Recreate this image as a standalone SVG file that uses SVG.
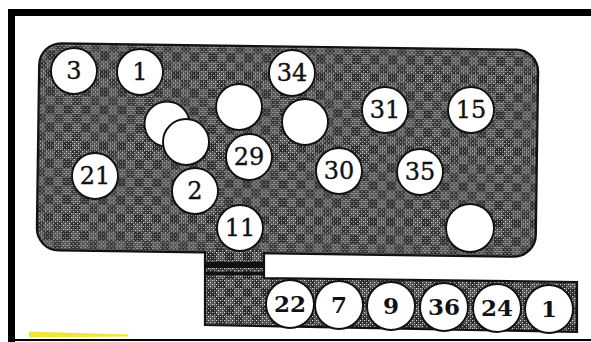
<svg xmlns="http://www.w3.org/2000/svg" width="591" height="342" viewBox="0 0 591 342">
<defs>
<pattern id="dots" width="4" height="4" patternUnits="userSpaceOnUse">
<rect width="4" height="4" fill="#2a2a2a"/>
<rect x="0" y="0" width="1.2" height="1.2" fill="#cfcfcf"/>
<rect x="2" y="2" width="1.2" height="1.2" fill="#cfcfcf"/>
<rect x="2" y="0" width="1" height="1" fill="#777"/>
</pattern>
<pattern id="check" width="18" height="18" patternUnits="userSpaceOnUse">
<rect width="9" height="9" fill="#ffffff" fill-opacity="0.16"/>
<rect x="9" y="9" width="9" height="9" fill="#ffffff" fill-opacity="0.16"/>
<rect x="9" y="0" width="9" height="9" fill="#000000" fill-opacity="0.12"/>
</pattern>
<style>
.tile{fill:url(#dots)}
.over{fill:url(#check)}
.edge{fill:none;stroke:#111;stroke-width:2.2}
.c{fill:#ffffff;stroke:#111;stroke-width:1.9}
.t{font-family:"DejaVu Serif","Liberation Serif",serif;font-size:24px;fill:#111;stroke:#111;stroke-width:0.35;text-anchor:middle}
.b{font-family:"DejaVu Serif","Liberation Serif",serif;font-size:23px;font-weight:bold;fill:#111;text-anchor:middle}
</style>
</defs>
<rect width="591" height="342" fill="#ffffff"/>
<!-- frame -->
<rect x="8" y="9" width="583" height="7" fill="#000"/>
<rect x="8" y="9" width="7" height="333" fill="#000"/>
<rect x="8" y="339" width="583" height="2" fill="#000"/>
<polygon points="29,331.5 128,334.5 128,336.5 29,337.5" fill="#f2e43a"/>
<!-- lower strip and neck -->
<g id="strip">
<polygon class="tile" points="205,248 264,248 264,278 577,282 577,332 205,325"/>
<polygon class="over" points="205,248 264,248 264,278 577,282 577,332 205,325"/>
</g>
<!-- main board -->
<g id="board">
<g transform="rotate(0.8 287.5 150)">
<rect class="tile" x="38" y="46.5" width="499" height="207" rx="22"/>
<rect class="over" x="38" y="46.5" width="499" height="207" rx="22"/>
<rect class="edge" x="38" y="46.5" width="499" height="207" rx="22"/>
</g>
</g>
<g id="neck">
<rect class="tile" x="206.2" y="249" width="56.6" height="13"/>
<rect class="over" x="206.2" y="249" width="56.6" height="13"/>
<rect x="205" y="262" width="59" height="6" fill="#111"/>
<rect x="205" y="272" width="59" height="3" fill="#111"/>
<polyline class="edge" points="205,251 205,325 577,332 577,282 264,278 264,254"/>
</g>
<g id="connectors"></g>
<!-- circles on board -->
<g id="n3"><circle class="c" cx="74" cy="71" r="23"/><text class="t" x="74" y="79">3</text></g>
<g id="n1a"><circle class="c" cx="140" cy="72" r="23"/><text class="t" x="140" y="80">1</text></g>
<g id="n34"><circle class="c" cx="292" cy="73" r="23"/><text class="t" x="292" y="81">34</text></g>
<g id="blank1"><circle class="c" cx="239" cy="107" r="23"/></g>
<g id="blank2"><circle class="c" cx="305" cy="122" r="23"/></g>
<g id="blank3"><circle class="c" cx="167" cy="124" r="22.5"/></g>
<g id="blank4"><circle class="c" cx="186" cy="142" r="23"/></g>
<g id="n31"><circle class="c" cx="385" cy="110" r="23"/><text class="t" x="385" y="118">31</text></g>
<g id="n15"><circle class="c" cx="471" cy="110" r="23"/><text class="t" x="471" y="118">15</text></g>
<g id="n29"><circle class="c" cx="249" cy="157" r="23"/><text class="t" x="249" y="165">29</text></g>
<g id="n30"><circle class="c" cx="339" cy="171" r="23"/><text class="t" x="339" y="179">30</text></g>
<g id="n35"><circle class="c" cx="420" cy="172" r="23"/><text class="t" x="420" y="180">35</text></g>
<g id="n21"><circle class="c" cx="95" cy="176" r="23"/><text class="t" x="95" y="184">21</text></g>
<g id="n2"><circle class="c" cx="195" cy="191" r="23"/><text class="t" x="195" y="199">2</text></g>
<g id="n11"><circle class="c" cx="240" cy="228" r="23"/><text class="t" x="240" y="236">11</text></g>
<g id="blank5"><circle class="c" cx="470" cy="228" r="24"/></g>
<!-- circles on strip -->
<g id="s22"><circle class="c" cx="290" cy="304" r="24"/><text class="b" x="290" y="312">22</text></g>
<g id="s7"><circle class="c" cx="339" cy="305" r="24"/><text class="b" x="339" y="313">7</text></g>
<g id="s9"><circle class="c" cx="391" cy="306" r="24"/><text class="b" x="391" y="314">9</text></g>
<g id="s36"><circle class="c" cx="444" cy="307" r="24"/><text class="b" x="444" y="315">36</text></g>
<g id="s24"><circle class="c" cx="497" cy="308" r="24"/><text class="b" x="497" y="316">24</text></g>
<g id="s1"><circle class="c" cx="549" cy="309" r="24"/><text class="b" x="549" y="317">1</text></g>
</svg>
